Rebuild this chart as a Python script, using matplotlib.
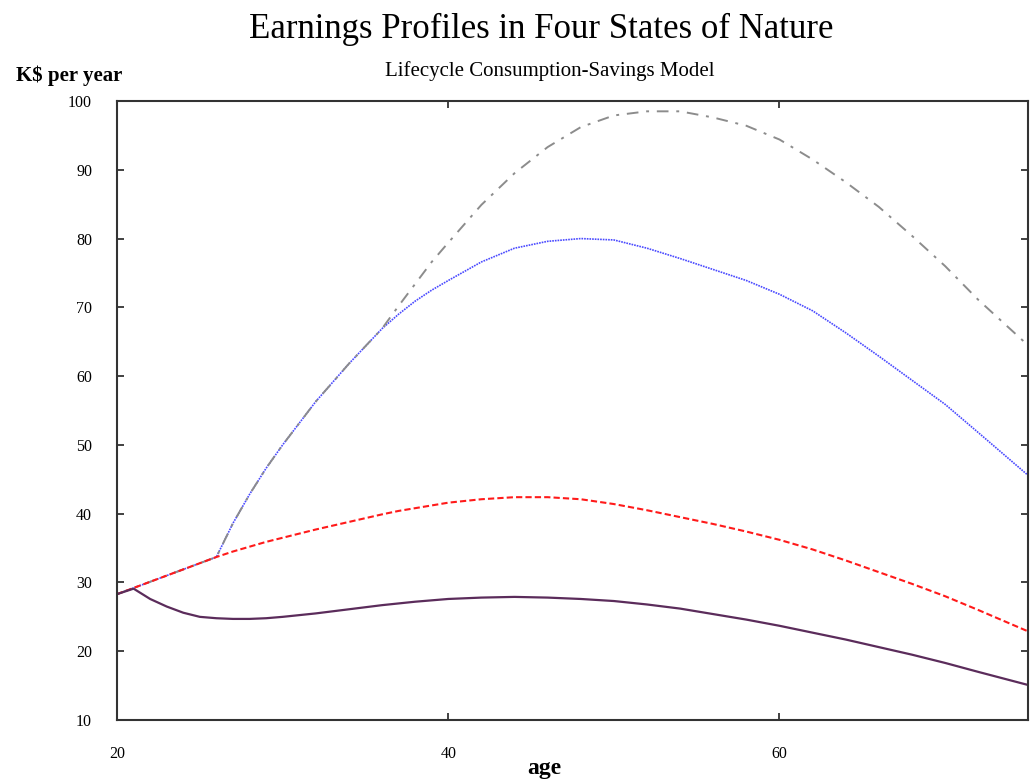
import numpy as np
import matplotlib.pyplot as plt

plt.rcParams['font.family'] = ['Liberation Serif', 'DejaVu Serif']

age = [20, 21, 22, 23, 24, 25, 26, 27, 28, 29, 30, 32, 34, 36, 37, 38, 39, 40, 42, 44, 46, 48,
       50, 52, 54, 56, 58, 60, 62, 64, 66, 68, 70, 72, 75]

# four earnings states (K$ per year)
low = [28.3, 29.1, 27.6, 26.5, 25.6, 25.0, 24.8, 24.7, 24.7, 24.8, 25.0, 25.5, 26.1, 26.7, 26.95,
       27.2, 27.4, 27.6, 27.8, 27.9, 27.8, 27.6, 27.3, 26.8, 26.2, 25.4, 24.6, 23.7, 22.7, 21.7,
       20.6, 19.5, 18.3, 17.0, 15.1]
mid = [28.3, 29.2, 30.1, 31.0, 31.9, 32.8, 33.7, 34.5, 35.2, 35.9, 36.5, 37.7, 38.8, 39.9, 40.4,
       40.8, 41.2, 41.6, 42.1, 42.4, 42.4, 42.1, 41.4, 40.5, 39.5, 38.5, 37.4, 36.2, 34.8, 33.2,
       31.5, 29.8, 28.0, 26.0, 22.9]
high = [28.3, 29.2, 30.1, 31.0, 31.9, 32.8, 33.7, 38.6, 42.8, 46.6, 50.0, 56.3, 61.8, 66.9, 69.0,
        70.9, 72.5, 73.9, 76.6, 78.6, 79.6, 80.0, 79.8, 78.6, 77.1, 75.5, 73.9, 71.9, 69.5, 66.3,
        62.9, 59.4, 55.9, 51.8, 45.6]
top = [28.3, 29.2, 30.1, 31.0, 31.9, 32.8, 33.7, 38.6, 42.8, 46.6, 50.0, 56.3, 61.8, 66.9, 70.2,
       73.4, 76.6, 79.4, 84.9, 89.5, 93.3, 96.2, 97.9, 98.5, 98.5, 97.6, 96.4, 94.4, 91.5, 88.2,
       84.6, 80.4, 76.0, 71.1, 64.5]

xticks = [20, 40, 60]
yticks = [10, 20, 30, 40, 50, 60, 70, 80, 90, 100]

fig = plt.figure(figsize=(10.31, 7.8), dpi=100)
ax = fig.add_axes([0.1135, 0.0769, 0.8835, 0.7936])

ax.plot(age, high, color='#4a4aff', linestyle=(0, (1, 0.6)), linewidth=1.2)
ax.plot(age, top, color='#8c8c8c', linestyle=(0, (6, 4, 1.5, 4)), linewidth=1.4)
ax.plot(age, mid, color='#ff1a1a', linestyle=(0, (3, 1.5)), linewidth=1.5)
ax.plot(age, low, color='#5b2c5b', linestyle='-', linewidth=1.6)

ax.set_xlim(20, 75)
ax.set_ylim(10, 100)
ax.set_xticks(xticks)
ax.set_yticks(yticks)
ax.tick_params(direction='in', length=5, width=1.3, top=True, right=True,
               labelsize=11.5, color='#333333')
ax.tick_params(axis='y', pad=18)
ax.tick_params(axis='x', pad=19)
for s in ax.spines.values():
    s.set_color('#333333')
    s.set_linewidth(1.5)

fig.text(0.525, 0.962, 'Earnings Profiles in Four States of Nature', ha='center', va='center',
         fontsize=25)
fig.text(0.533, 0.909, 'Lifecycle Consumption-Savings Model', ha='center', va='center',
         fontsize=15)
fig.text(0.016, 0.903, 'K$ per year', ha='left', va='center', fontsize=15, fontweight='bold')
fig.text(0.528, 0.015, 'age', ha='center', va='center', fontsize=17, fontweight='bold')

fig.savefig('out.png', dpi=100)
